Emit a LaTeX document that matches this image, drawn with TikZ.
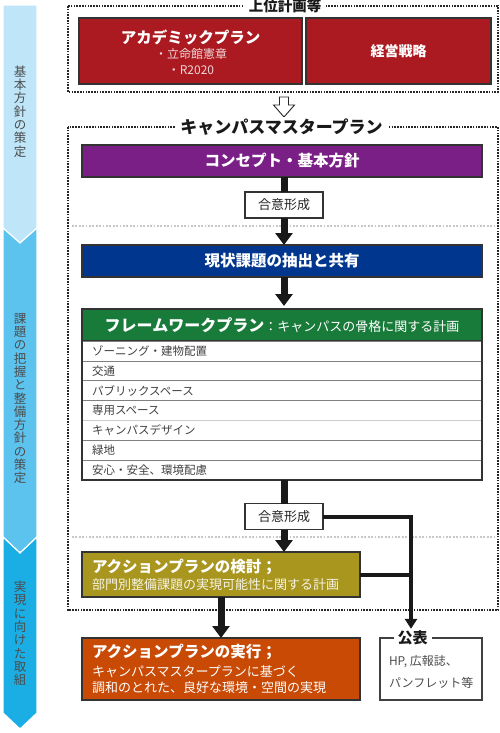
\documentclass[tikz,border=0pt]{standalone}
\usepackage{fontspec}
\setmainfont{Noto Sans CJK JP}
\usepackage{tikz}
\usetikzlibrary{arrows.meta,positioning,calc}

\definecolor{upperred}{HTML}{AB1A21}
\definecolor{conceptpurple}{HTML}{7A1F86}
\definecolor{issueblue}{HTML}{00368E}
\definecolor{framegreen}{HTML}{187B3A}
\definecolor{actionolive}{HTML}{A9961F}
\definecolor{execorange}{HTML}{C84A05}
\definecolor{stagelight}{HTML}{BEE5F8}
\definecolor{stagemid}{HTML}{5CC3EF}
\definecolor{stagedark}{HTML}{1BAEE5}

\begin{document}
\begin{tikzpicture}[x=1pt, y=-1pt, >={Triangle[length=12pt,width=17pt]}, line join=miter]
\tikzstyle{every node}=[inner sep=0, outer sep=0]
\tikzstyle{dotframe}=[draw=black!85, line width=1.6pt, dash pattern=on 1.6pt off 1.2pt]
\tikzstyle{sepline}=[draw=black!22, line width=1.8pt, dash pattern=on 1.8pt off 1.6pt]
\tikzstyle{frametitle}=[fill=white, inner xsep=5pt, inner ysep=2pt, text=black!90]
\tikzstyle{plan}=[draw=black!80, line width=1.2pt, text=white, minimum width=400pt]
\tikzstyle{agree}=[draw=black!80, fill=white, line width=1.1pt, minimum width=78pt, minimum height=26pt, font=\fontsize{13}{13}\selectfont, text=black!85]
\tikzstyle{listrow}=[draw=black!50, line width=0.6pt, minimum height=19.86pt, text width=380pt, inner xsep=10pt, align=left, font=\fontsize{11.5}{12}\selectfont, text=black!75]
\tikzstyle{stagebar}=[draw=white, line width=1.2pt]
\tikzstyle{stagetext}=[align=center, font=\fontsize{12.5}{13.3}\selectfont, text=black!70]
\tikzstyle{bigarrow}=[->, line width=7pt, draw=black!90]
\tikzstyle{thinarrow}=[-{Triangle[length=10pt,width=12pt]}, line width=4pt, draw=black!90]
\useasboundingbox (0,0) rectangle (500,733);

\fill[stagebar, fill=stagelight] (3,5) -- (37,5) -- (37,228) -- (20,243) -- (3,228) -- cycle;
\fill[stagebar, fill=stagemid] (3,228) -- (20,243) -- (37,228) -- (37,537) -- (20,553) -- (3,537) -- cycle;
\fill[stagebar, fill=stagedark] (3,537) -- (20,553) -- (37,537) -- (37,713) -- (20,729) -- (3,713) -- cycle;
\node[stagetext] (stage1) at (20,111.5) {基\\本\\方\\針\\の\\策\\定};
\node[stagetext] (stage2) at (20,398.5) {課\\題\\の\\把\\握\\と\\整\\備\\方\\針\\の\\策\\定};
\node[stagetext] (stage3) at (20,633.5) {実\\現\\に\\向\\け\\た\\取\\組};

\draw[dotframe] (68,6) rectangle (498,92);
\node[frametitle, font=\fontsize{14.5}{15}\bfseries] (upper) at (285,6) {上位計画等};
\node[plan, fill=upperred, minimum width=223pt, minimum height=66pt] (acad) at (190.5,51) {};
\node[font=\fontsize{15.5}{16}\bfseries, text=white] (acadtitle) at (190.5,38) {アカデミックプラン};
\node[font=\fontsize{12}{12}\selectfont, text=white!82!upperred] (charter) at (191,53.5) {・立命館憲章};
\node[font=\fontsize{12}{12}\selectfont, text=white!82!upperred] (r2020) at (191,70) {・R2020};
\node[plan, fill=upperred, minimum width=185pt, minimum height=66pt, font=\fontsize{14}{14}\bfseries] (mgmt) at (398.5,51) {経営戦略};

\draw[black!85, line width=0.9pt, fill=white] (279.5,97) -- (288.5,97) -- (288.5,105) -- (294.5,105) -- (284,117) -- (273.5,105) -- (279.5,105) -- cycle;

\draw[dotframe] (68,127) rectangle (498,610);
\node[frametitle, font=\fontsize{17}{17}\bfseries] (master) at (281.5,127) {キャンパスマスタープラン};
\draw[sepline] (72,226) -- (496,226);
\draw[sepline] (72,537) -- (496,537);

\node[plan, fill=conceptpurple, minimum height=32pt, font=\fontsize{15.5}{16}\bfseries] (concept) at (282,161) {コンセプト・基本方針};
\node[agree] (agree1) at (284,205) {合意形成};
\node[plan, fill=issueblue, minimum height=32pt, font=\fontsize{15.5}{16}\bfseries] (issue) at (282,261) {現状課題の抽出と共有};
\node[plan, fill=framegreen, minimum height=32pt] (framework) at (282,325) {{\fontsize{16}{16}\bfseries フレームワークプラン}{\fontsize{13}{13}\selectfont ：キャンパスの骨格に関する計画}};
\node[listrow, below=0pt of framework] (zoning) {ゾーニング・建物配置};
\node[listrow, below=0pt of zoning] (traffic) {交通};
\node[listrow, below=0pt of traffic] (public) {パブリックスペース};
\node[listrow, below=0pt of public] (private) {専用スペース};
\node[listrow, below=0pt of private] (design) {キャンパスデザイン};
\node[listrow, below=0pt of design] (green) {緑地};
\node[listrow, below=0pt of green] (safety) {安心・安全、環境配慮};
\draw[black!20, line width=1.6pt] (private.south west) -- (private.south east);
\draw[black!80, line width=1.2pt] (framework.north west) rectangle (safety.south east);

\node[agree] (agree2) at (284,516.5) {合意形成};
\node[plan, fill=actionolive, minimum width=278pt, minimum height=45pt, text width=258pt, inner xsep=10pt, align=left, font=\fontsize{13}{16}\selectfont] (action) at (221,574.5)
  {{\fontsize{15.5}{17}\bfseries アクションプランの検討；}\\[1pt]{\color{white!88!actionolive}部門別整備課題の実現可能性に関する計画}};
\node[plan, fill=execorange, minimum width=278pt, minimum height=62pt, text width=258pt, inner xsep=10pt, align=left, font=\fontsize{13}{16}\selectfont] (exec) at (221,669)
  {{\fontsize{15.5}{17}\bfseries アクションプランの実行；}\\[3pt]キャンパスマスタープランに基づく\\調和のとれた、良好な環境・空間の実現};

\node[draw=black!75, line width=1.1pt, minimum width=102pt, minimum height=62pt] (pubbox) at (431,669) {};
\node[frametitle, font=\fontsize{15}{15}\bfseries, inner xsep=4pt] (pubtitle) at (412.5,638) {公表};
\node[anchor=west, font=\fontsize{12}{12}\selectfont, text=black!70] (media1) at (389,662) {HP, 広報誌、};
\node[anchor=west, font=\fontsize{12}{12}\selectfont, text=black!70] (media2) at (389,683) {パンフレット等};
\coordinate (turn) at (411,516.5);

\draw[line width=7pt, black!90] (agree1.north |- concept.south) -- (agree1.north);
\draw[bigarrow] (agree1.south) -- (agree1.south |- issue.north);
\draw[bigarrow, shorten >=3pt] (agree1.south |- issue.south) -- (agree1.south |- framework.north);
\draw[line width=7pt, black!90] (agree2.north |- safety.south) -- (agree2.north);
\draw[bigarrow] (agree2.south) -- (agree2.south |- action.north);
\draw[bigarrow] (action.south) -- (exec.north);
\draw[thinarrow] (agree2.east) -- (turn) -- (turn |- pubtitle.north);
\draw[line width=4pt, black!90] (action.east) -- (action.east -| turn);
\end{tikzpicture}
\end{document}
